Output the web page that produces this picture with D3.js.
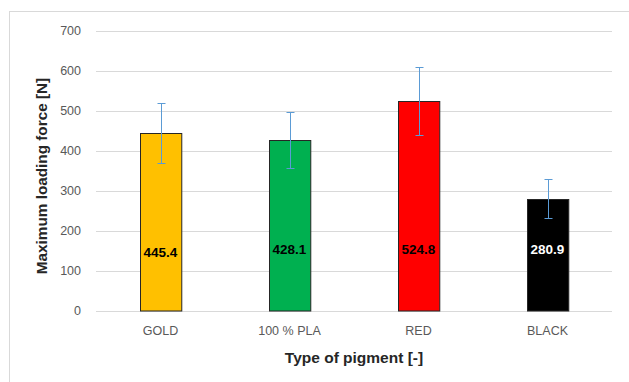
<!DOCTYPE html>
<html><head><meta charset="utf-8">
<script src="https://cdn.jsdelivr.net/npm/d3@7"></script>
<style>body{margin:0;background:#fff}svg{display:block}</style>
</head><body>
<script>
const categories = ["GOLD", "100 % PLA", "RED", "BLACK"];
const values = [445.4, 428.1, 524.8, 280.9];
const errors = [75, 70.5, 84, 49];
const colors = ["#FFC000", "#00B050", "#FF0000", "#000000"];
const labelColors = ["#000000", "#000000", "#000000", "#FFFFFF"];
const yTicks = [0, 100, 200, 300, 400, 500, 600, 700];
const labelValues = [148, 155, 155, 155];

const W = 629, H = 382;
const font = "'Liberation Sans', Arial, sans-serif";
const svg = d3.select("body").append("svg").attr("width", W).attr("height", H);

svg.append("rect").attr("x", 9.5).attr("y", 11.5).attr("width", 640).attr("height", 400)
  .attr("fill", "#fff").attr("stroke", "#d9d9d9");

const x = d3.scaleBand().domain(categories).range([96, 612]).paddingInner(0.68).paddingOuter(0.34);
const y = d3.scaleLinear().domain([0, 700]).range([311, 31]);

svg.append("g").selectAll("line").data(yTicks).join("line")
  .attr("x1", 96).attr("x2", 612)
  .attr("y1", d => Math.round(y(d)) + 0.5).attr("y2", d => Math.round(y(d)) + 0.5)
  .attr("stroke", "#d9d9d9").attr("stroke-width", 1);

svg.append("g").selectAll("text").data(yTicks).join("text")
  .attr("x", 81).attr("y", d => y(d)).attr("dy", "0.35em")
  .attr("text-anchor", "end").attr("font-family", font).attr("font-size", 12.5)
  .attr("fill", "#595959").text(d => d);

svg.append("g").selectAll("rect").data(values).join("rect")
  .attr("x", (d, i) => Math.round(x(categories[i])) + 0.5)
  .attr("y", d => Math.round(y(d)) + 0.5)
  .attr("width", x.bandwidth())
  .attr("height", d => y(0) - Math.round(y(d)) - 0.5)
  .attr("fill", (d, i) => colors[i]).attr("stroke", "#262626").attr("stroke-width", 1);

const eg = svg.append("g").attr("stroke", "#5B9BD5").attr("stroke-width", 1);
values.forEach((v, i) => {
  const cx = Math.round(x(categories[i]) + x.bandwidth() / 2) + 0.5;
  const yt = Math.round(y(v + errors[i])) + 0.5, yb = Math.round(y(v - errors[i])) + 0.5;
  eg.append("line").attr("x1", cx).attr("x2", cx).attr("y1", yt).attr("y2", yb);
  eg.append("line").attr("x1", cx - 4).attr("x2", cx + 4).attr("y1", yt).attr("y2", yt);
  eg.append("line").attr("x1", cx - 4).attr("x2", cx + 4).attr("y1", yb).attr("y2", yb);
});

svg.append("g").selectAll("text").data(values).join("text")
  .attr("x", (d, i) => x(categories[i]) + x.bandwidth() / 2)
  .attr("y", (d, i) => y(labelValues[i])).attr("dy", "0.35em")
  .attr("text-anchor", "middle").attr("font-family", font).attr("font-size", 13.5)
  .attr("font-weight", "bold").attr("fill", (d, i) => labelColors[i])
  .text(d => d.toFixed(1));

svg.append("g").selectAll("text").data(categories).join("text")
  .attr("x", d => x(d) + x.bandwidth() / 2).attr("y", 331).attr("dy", "0.35em")
  .attr("text-anchor", "middle").attr("font-family", font).attr("font-size", 12.5)
  .attr("fill", "#595959").text(d => d);

svg.append("text").attr("x", 354).attr("y", 358).attr("dy", "0.35em")
  .attr("text-anchor", "middle").attr("font-family", font).attr("font-size", 15.5)
  .attr("font-weight", "bold").attr("fill", "#262626").text("Type of pigment [-]");
svg.append("text").attr("transform", "translate(42,176) rotate(-90)").attr("dy", "0.35em")
  .attr("text-anchor", "middle").attr("font-family", font).attr("font-size", 15.3)
  .attr("font-weight", "bold").attr("fill", "#262626").text("Maximum loading force [N]");
</script>
</body></html>
